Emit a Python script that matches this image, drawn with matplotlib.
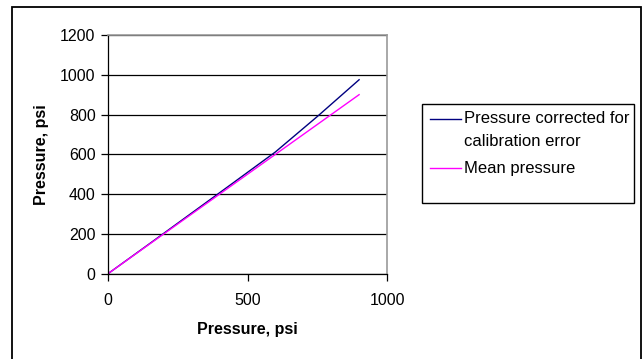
import matplotlib
matplotlib.use("Agg")
import matplotlib.pyplot as plt
from matplotlib.patches import Rectangle
from matplotlib.lines import Line2D

plt.rcParams['font.family'] = ['Liberation Sans', 'DejaVu Sans']

# Pressure readings (psi)
pressure = [0, 150, 300, 450, 600, 750, 900]
corrected = [0, 152, 305, 458, 612, 790, 975]
mean_pressure = [0, 150, 300, 450, 600, 750, 900]

series_names = ["Pressure corrected for\ncalibration error", "Mean pressure"]
series_colors = ["#000080", "#FF00FF"]

x_ticks = [0, 500, 1000]
y_ticks = [0, 200, 400, 600, 800, 1000, 1200]

W, H = 644, 359
fig = plt.figure(figsize=(W / 100, H / 100), dpi=100)
fig.patch.set_facecolor("white")

# outer frame
fig.add_artist(Rectangle((12 / W, -0.05), (641 - 12) / W, 1.05 - 7 / H,
                         transform=fig.transFigure, fill=False,
                         edgecolor="black", linewidth=1.3))

ax = fig.add_axes([108 / W, 1 - 273.7 / H, (387 - 108) / W, (273.7 - 35) / H])
ax.plot(pressure, corrected, color=series_colors[0], linewidth=1.0)
ax.plot(pressure, mean_pressure, color=series_colors[1], linewidth=1.0)

ax.set_xlim(0, 1000)
ax.set_ylim(0, 1200)
ax.set_xticks(x_ticks)
ax.set_yticks(y_ticks)
ax.yaxis.grid(True, color="black", linewidth=0.9)
ax.set_axisbelow(True)
for s in ("top", "right"):
    ax.spines[s].set_color("#999999")
    ax.spines[s].set_linewidth(1.2)
for s in ("left", "bottom"):
    ax.spines[s].set_color("black")
    ax.spines[s].set_linewidth(0.9)
ax.tick_params(direction="out", length=5, width=0.9, labelsize=11.5,
               pad=4, colors="black")
ax.tick_params(axis="x", pad=9)

ax.set_xlabel("Pressure, psi", fontsize=11.5, fontweight="bold", labelpad=10)
ax.set_ylabel("Pressure, psi", fontsize=11.5, fontweight="bold", labelpad=8)

# legend box
lx0, ly0, lx1, ly1 = 422.5, 104, 634, 203
fig.add_artist(Rectangle((lx0 / W, 1 - ly1 / H), (lx1 - lx0) / W, (ly1 - ly0) / H,
                         transform=fig.transFigure, fill=False,
                         edgecolor="black", linewidth=1.0))
entry_y = [119, 168]
text_y = [130, 168]
for name, col, ly, ty in zip(series_names, series_colors, entry_y, text_y):
    fig.add_artist(Line2D([430 / W, 461 / W], [1 - ly / H, 1 - ly / H],
                          transform=fig.transFigure, color=col, linewidth=1.0))
    fig.text(464 / W, 1 - ty / H, name, fontsize=12, va="center", ha="left",
             linespacing=1.6)

fig.savefig("out.png", dpi=100)
